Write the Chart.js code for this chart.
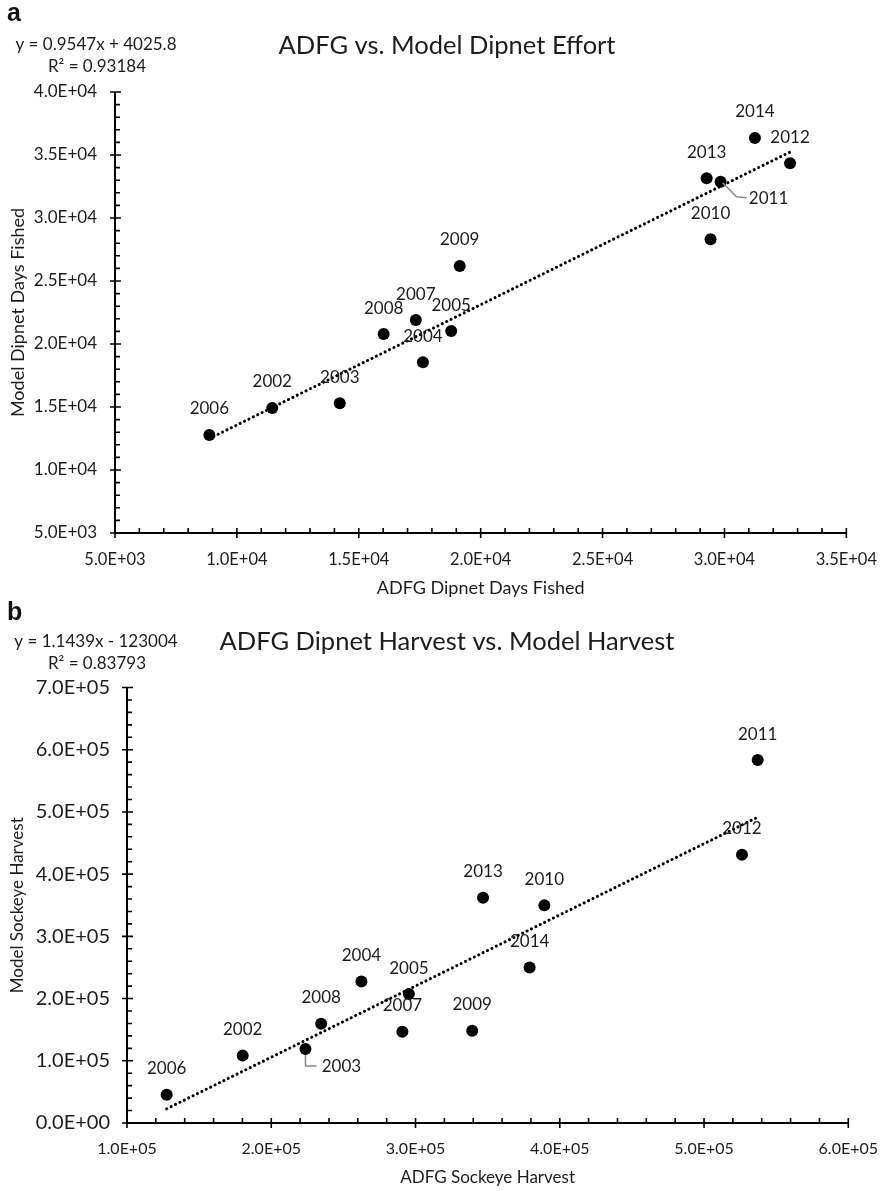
<!DOCTYPE html>
<html>
<head>
<meta charset="utf-8">
<script src="https://cdn.jsdelivr.net/npm/chart.js@4.4.0/dist/chart.umd.min.js"></script>
<style>
  body { margin: 0; background: #fff; }
  #wrap { position: relative; width: 894px; height: 1191px; }
  canvas { position: absolute; left: 0; }
</style>
</head>
<body>
<div id="wrap">
  <canvas id="effort-chart" width="894" height="597" style="top:0"></canvas>
  <canvas id="harvest-chart" width="894" height="594" style="top:597px"></canvas>
</div>
<script>
// panel a - dipnet effort (days fished)
const effortYears = [2002, 2003, 2004, 2005, 2006, 2007, 2008, 2009, 2010, 2011, 2012, 2013, 2014];
const effortAdfg  = [11450, 14220, 17630, 18790, 8870, 17340, 16020, 19140, 29430, 29840, 32690, 29270, 31250];
const effortModel = [14920, 15290, 18550, 21030, 12780, 21900, 20790, 26190, 28310, 32880, 34340, 33150, 36350];
const effortSlope = 0.9547;
const effortIntercept = 4025.8;
const effortR2 = '0.93184';
const effortXTicks = [5000, 10000, 15000, 20000, 25000, 30000, 35000];
const effortYTicks = [5000, 10000, 15000, 20000, 25000, 30000, 35000, 40000];

// panel b - sockeye harvest
const harvestYears = [2002, 2003, 2004, 2005, 2006, 2007, 2008, 2009, 2010, 2011, 2012, 2013, 2014];
const harvestAdfg  = [180200, 223700, 262500, 295400, 127500, 290900, 234600, 339300, 389300, 537200, 526300, 346800, 379100];
const harvestModel = [108300, 119100, 227600, 207200, 45400, 146800, 159600, 148400, 349800, 583300, 431100, 362200, 250000];
const harvestSlope = 1.1439;
const harvestIntercept = -123004;
const harvestR2 = '0.83793';
const harvestXTicks = [100000, 200000, 300000, 400000, 500000, 600000];
const harvestYTicks = [0, 100000, 200000, 300000, 400000, 500000, 600000, 700000];

const textColor = '#1c1c1c';
const fontFamily = 'Lato, "Open Sans", sans-serif';

function sci(v) {
    if (v === 0) return '0.0E+00';
    const e = Math.floor(Math.log10(Math.abs(v)) + 1e-9);
    const m = v / Math.pow(10, e);
    return m.toFixed(1) + 'E+' + String(e).padStart(2, '0');
}

function buildTicks(majors, parts) {
    const out = [];
    for (let i = 0; i < majors.length; i++) {
        out.push({value: majors[i]});
        if (i < majors.length - 1) {
            const step = (majors[i + 1] - majors[i]) / parts;
            for (let k = 1; k < parts; k++) out.push({value: majors[i] + k * step});
        }
    }
    return out;
}

// axis lines + excel style tick marks (major crossing, minor inside)
const axisPlugin = {
    id: 'axisMarks',
    beforeDatasetsDraw(chart, args, opts) {
        const {ctx, chartArea: a, scales} = chart;
        const xs = new Set(opts.xMajors), ys = new Set(opts.yMajors);
        ctx.save();
        ctx.strokeStyle = '#000';
        ctx.lineWidth = 2;
        ctx.beginPath();
        ctx.moveTo(a.left, a.top);
        ctx.lineTo(a.left, a.bottom);
        ctx.lineTo(a.right, a.bottom);
        ctx.stroke();
        ctx.lineWidth = 1.6;
        ctx.beginPath();
        scales.x.ticks.forEach(t => {
            const px = scales.x.getPixelForValue(t.value);
            if (xs.has(t.value)) { ctx.moveTo(px, a.bottom - 5); ctx.lineTo(px, a.bottom + 5); }
            else { ctx.moveTo(px, a.bottom); ctx.lineTo(px, a.bottom - 5); }
        });
        scales.y.ticks.forEach(t => {
            const py = scales.y.getPixelForValue(t.value);
            if (ys.has(t.value)) { ctx.moveTo(a.left - 5, py); ctx.lineTo(a.left + 6, py); }
            else { ctx.moveTo(a.left, py); ctx.lineTo(a.left + 5, py); }
        });
        ctx.stroke();
        ctx.restore();
    },
    afterDraw(chart, args, opts) {
        const {ctx} = chart;
        const d = opts.deco;
        ctx.save();
        ctx.textBaseline = 'middle';
        ctx.textAlign = 'left';
        ctx.font = 'bold 25px "Liberation Sans", Arial, sans-serif';
        ctx.fillStyle = '#111';
        ctx.fillText(d.letter, 7, d.letterY);
        ctx.fillStyle = textColor;
        ctx.textAlign = 'center';
        ctx.font = '17px ' + fontFamily;
        ctx.fillText(d.equation, 96, 45);
        ctx.fillText('R\u00b2 = ' + d.r2, 97, 67);
        ctx.font = d.titleSize + 'px ' + fontFamily;
        ctx.fillText(d.title, 447, d.titleY);
        ctx.restore();
    }
};

// year labels next to points
const yearLabelPlugin = {
    id: 'yearLabels',
    afterDatasetsDraw(chart, args, opts) {
        const {ctx} = chart;
        const meta = chart.getDatasetMeta(0);
        const years = opts.years;
        const special = opts.special || {};
        ctx.save();
        ctx.font = '17px ' + fontFamily;
        ctx.fillStyle = textColor;
        ctx.textAlign = 'center';
        ctx.textBaseline = 'middle';
        meta.data.forEach((pt, i) => {
            const s = special[years[i]];
            if (s) {
                ctx.strokeStyle = '#8a8a8a';
                ctx.lineWidth = 1.5;
                ctx.beginPath();
                s.leader.forEach((p, j) => {
                    if (j === 0) ctx.moveTo(pt.x + p[0], pt.y + p[1]);
                    else ctx.lineTo(pt.x + p[0], pt.y + p[1]);
                });
                ctx.stroke();
                ctx.fillText(String(years[i]), pt.x + s.dx, pt.y + s.dy);
            } else {
                ctx.fillText(String(years[i]), pt.x, pt.y - 26);
            }
        });
        ctx.restore();
    }
};

function makeChart(id, o) {
    const pts = o.xs.map((x, i) => ({x: x, y: o.ys[i]}));
    const xMin = Math.min(...o.xs), xMax = Math.max(...o.xs);
    const trend = [
        {x: xMin, y: o.slope * xMin + o.intercept},
        {x: xMax, y: o.slope * xMax + o.intercept}
    ];
    const xMajors = new Set(o.xTicks), yMajors = new Set(o.yTicks);
    const ctx = document.getElementById(id).getContext('2d');
    return new Chart(ctx, {
        type: 'scatter',
        data: {
            datasets: [
                {data: pts, pointRadius: 6, pointHoverRadius: 6, backgroundColor: '#000', borderWidth: 0, clip: false},
                {data: trend, showLine: true, pointRadius: 0, borderColor: '#000', borderWidth: 3,
                    borderDash: [0.1, 4.8], borderCapStyle: 'round', clip: false}
            ]
        },
        options: {
            responsive: false,
            animation: false,
            devicePixelRatio: 1,
            layout: {padding: o.padding},
            plugins: {
                legend: {display: false}, tooltip: {enabled: false}, title: {display: false},
                axisMarks: {xMajors: o.xTicks, yMajors: o.yTicks, deco: o.deco},
                yearLabels: {years: o.years, special: o.special}
            },
            scales: {
                x: {
                    type: 'linear',
                    min: o.xTicks[0], max: o.xTicks[o.xTicks.length - 1],
                    afterBuildTicks: s => { s.ticks = buildTicks(o.xTicks, 5); },
                    afterFit: s => { s.height = o.xAxisHeight; },
                    grid: {display: false, drawTicks: false},
                    border: {display: false},
                    ticks: {
                        autoSkip: false, maxRotation: 0, padding: o.xTickPad, color: textColor,
                        font: {family: fontFamily, size: o.xTickSize},
                        callback: v => xMajors.has(v) ? sci(v) : ''
                    },
                    title: {display: true, text: o.xTitle, color: textColor,
                        font: {family: fontFamily, size: o.axisTitleSize, lineHeight: 1}, padding: {top: 0, bottom: o.xTitlePad}}
                },
                y: {
                    type: 'linear',
                    min: o.yTicks[0], max: o.yTicks[o.yTicks.length - 1],
                    afterBuildTicks: s => { s.ticks = buildTicks(o.yTicks, 5); },
                    afterFit: s => { s.width = o.yAxisWidth; },
                    grid: {display: false, drawTicks: false},
                    border: {display: false},
                    ticks: {
                        autoSkip: false, padding: o.yTickPad, color: textColor,
                        font: {family: fontFamily, size: o.yTickSize},
                        callback: v => yMajors.has(v) ? sci(v) : ''
                    },
                    title: {display: true, text: o.yTitle, color: textColor,
                        font: {family: fontFamily, size: o.axisTitleSize, lineHeight: 1}, padding: {top: 9, bottom: 0}}
                }
            }
        },
        plugins: [axisPlugin, yearLabelPlugin]
    });
}

makeChart('effort-chart', {
    xs: effortAdfg, ys: effortModel, years: effortYears,
    slope: effortSlope, intercept: effortIntercept,
    xTicks: effortXTicks, yTicks: effortYTicks,
    padding: {top: 92, right: 35, left: 0, bottom: 0},
    xAxisHeight: 64, yAxisWidth: 115,
    xTickPad: 17, yTickPad: 18, xTickSize: 16.5, yTickSize: 17, axisTitleSize: 18,
    xTitle: 'ADFG Dipnet Days Fished', yTitle: 'Model Dipnet Days Fished', xTitlePad: 0,
    special: {2011: {dx: 48, dy: 17, leader: [[2, 1], [16, 15], [26, 16]]}},
    deco: {letter: 'a', letterY: 14, equation: 'y = 0.9547x + 4025.8', r2: effortR2,
        title: 'ADFG vs. Model Dipnet Effort', titleSize: 25.5, titleY: 46}
});

makeChart('harvest-chart', {
    xs: harvestAdfg, ys: harvestModel, years: harvestYears,
    slope: harvestSlope, intercept: harvestIntercept,
    xTicks: harvestXTicks, yTicks: harvestYTicks,
    padding: {top: 90.5, right: 33, left: 0, bottom: 0},
    xAxisHeight: 68, yAxisWidth: 127,
    xTickPad: 16, yTickPad: 17, xTickSize: 16, yTickSize: 20, axisTitleSize: 17,
    xTitle: 'ADFG Sockeye Harvest', yTitle: 'Model Sockeye Harvest', xTitlePad: 4.5,
    special: {2003: {dx: 36, dy: 18, leader: [[0, 6], [0, 17], [11, 17]]}},
    deco: {letter: 'b', letterY: 16, equation: 'y = 1.1439x - 123004', r2: harvestR2,
        title: 'ADFG Dipnet Harvest vs. Model Harvest', titleSize: 25.5, titleY: 45}
});
</script>
</body>
</html>
